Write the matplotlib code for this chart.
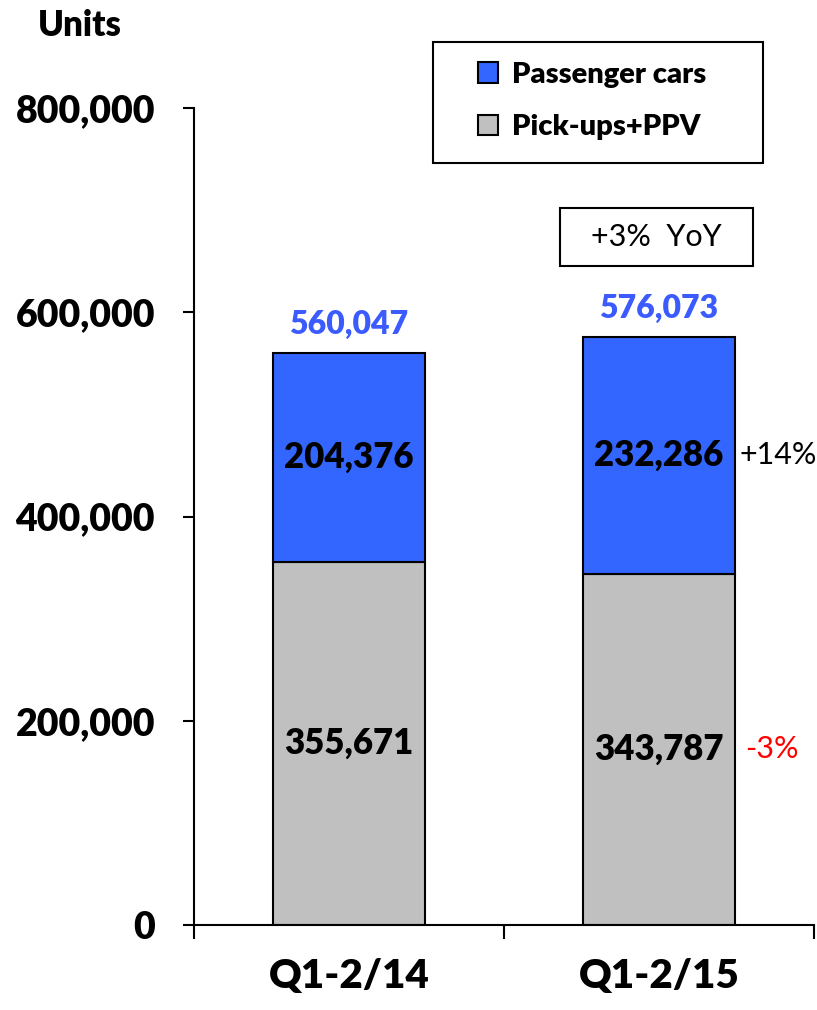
from matplotlib import pyplot as plt
from matplotlib.patches import Rectangle
import numpy as np

categories = ["Q1-2/14", "Q1-2/15"]
pickups = [355671, 343787]
passenger = [204376, 232286]
totals = [560047, 576073]
pass_change = "+14%"
pick_change = "-3%"
yoy_text = "+3%  YoY"

plt.rcParams['font.family'] = ['Lato', 'DejaVu Sans']
BW = 'heavy'

fig = plt.figure(figsize=(8.17, 10.10), dpi=100)
ax = fig.add_axes([194 / 817, 1 - 925 / 1010, 620 / 817, 817 / 1010])

x = np.arange(len(categories))
w = 0.49
ax.bar(x, pickups, w, color='#c0c0c0', edgecolor='black', linewidth=1.5, label='Pick-ups+PPV')
ax.bar(x, passenger, w, bottom=pickups, color='#3366ff', edgecolor='black', linewidth=1.5,
       label='Passenger cars')

# value labels
for i in range(len(categories)):
    ax.text(x[i], pickups[i] / 2, f"{pickups[i]:,}", ha='center', va='center',
            fontsize=25, fontweight=BW)
    ax.text(x[i], pickups[i] + passenger[i] / 2, f"{passenger[i]:,}", ha='center', va='center',
            fontsize=25, fontweight=BW)
    ax.annotate(f"{totals[i]:,}", (x[i], totals[i]), xytext=(0, 10), textcoords='offset points',
                ha='center', va='bottom', fontsize=23, fontweight=BW, color='#3b5bff')

ax.annotate(pass_change, (x[1] + w / 2, pickups[1] + passenger[1] / 2), xytext=(3, 0),
            textcoords='offset points', ha='left', va='center', fontsize=22)
ax.annotate(pick_change, (x[1] + w / 2, pickups[1] / 2), xytext=(7, 0),
            textcoords='offset points', ha='left', va='center', fontsize=22, color='red')

ax.set_xlim(-0.5, 1.5)
ax.set_ylim(0, 800000)
ax.set_yticks(np.arange(0, 800001, 200000))
ax.set_yticklabels([f"{v:,}" for v in range(0, 800001, 200000)], fontsize=27, fontweight=BW)
ax.set_xticks([-0.5, 0.5, 1.5])
ax.set_xticklabels([])
ax.set_xticks(x, minor=True)
ax.set_xticklabels(categories, minor=True, fontsize=29, fontweight=BW)
ax.tick_params(axis='x', which='major', length=10, width=1.5)
ax.tick_params(axis='x', which='minor', length=0, pad=24)
ax.tick_params(axis='y', length=8, width=1.5, pad=20)
for s in ['top', 'right']:
    ax.spines[s].set_visible(False)
for s in ['left', 'bottom']:
    ax.spines[s].set_linewidth(1.5)

fig.text(38 / 817, 1 - 26 / 1010, "Units", fontsize=25, fontweight=BW, va='center', ha='left')

# legend box
fig.patches.append(Rectangle((433 / 817, 1 - 163 / 1010), 330 / 817, 121 / 1010,
                             transform=fig.transFigure, facecolor='white', edgecolor='black',
                             linewidth=1.5))
h, l = ax.get_legend_handles_labels()
leg = fig.legend(h[::-1], l[::-1], loc='center left', bbox_to_anchor=(478 / 817, 1 - 101 / 1010),
                 prop={'size': 21, 'weight': BW}, frameon=False, labelspacing=0.9,
                 handlelength=0.7, handleheight=0.7, handletextpad=0.45, borderpad=0,
                 borderaxespad=0)

fig.patches.append(Rectangle((560 / 817, 1 - 266 / 1010), 193 / 817, 58 / 1010,
                             transform=fig.transFigure, facecolor='white', edgecolor='black',
                             linewidth=1.5))
fig.text(656 / 817, 1 - 237 / 1010, yoy_text, fontsize=22, ha='center', va='center')

fig.savefig('out.png', dpi=100)
